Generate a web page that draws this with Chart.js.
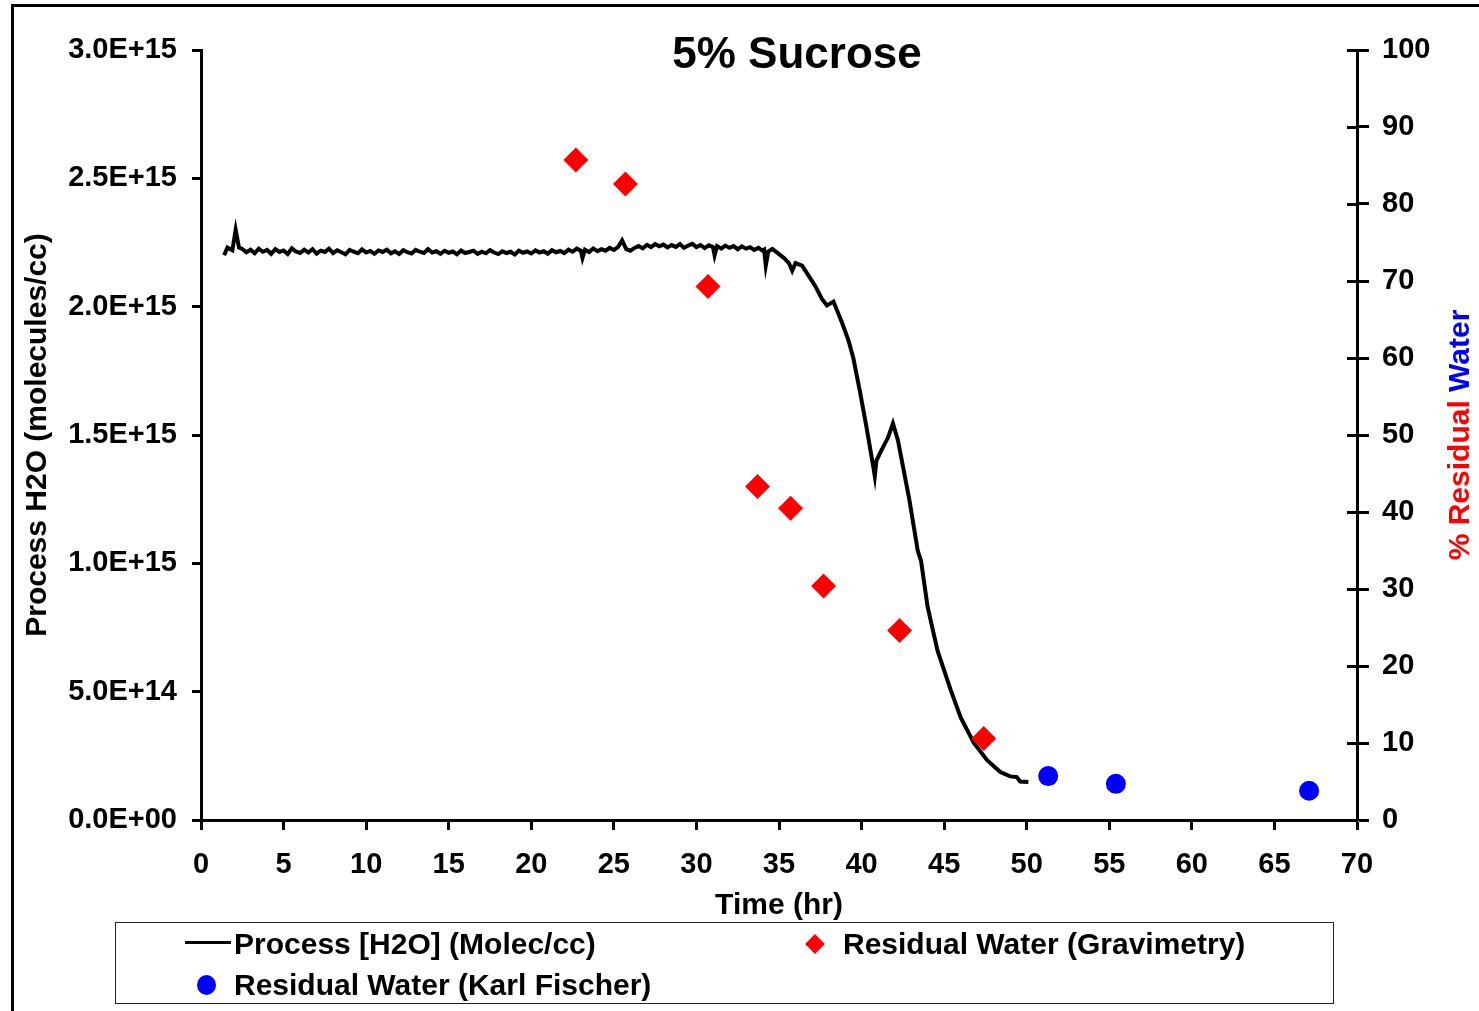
<!DOCTYPE html>
<html>
<head>
<meta charset="utf-8">
<script src="https://cdn.jsdelivr.net/npm/chart.js@4.4.1/dist/chart.umd.min.js"></script>
<style>
html,body{margin:0;padding:0;background:#fff;}
#wrap{position:relative;width:1479px;height:1011px;overflow:hidden;font-family:"Liberation Sans",Arial,sans-serif;background:#fff;}
#frame{position:absolute;left:11px;top:4px;width:1700px;height:1200px;border:3px solid #000;box-sizing:border-box;}
#cv{position:absolute;left:0;top:0;}
#legend{position:absolute;left:115px;top:922px;width:1219px;height:82px;border:1.5px solid #222;box-sizing:border-box;}
.lt{position:absolute;font-weight:bold;font-size:30px;color:#000;line-height:1;white-space:nowrap;}
.lline{position:absolute;height:3px;background:#000;}
.ldia{position:absolute;width:14px;height:14px;background:#ff0000;transform:rotate(45deg);}
.lcir{position:absolute;width:19px;height:20px;border-radius:50%;background:#0000ff;}
</style>
</head>
<body>
<div id="wrap">
  <div id="frame"></div>
  <canvas id="cv" width="1479" height="1011"></canvas>
  <div id="legend"></div>
  <div class="lline" style="left:185px;top:941px;width:46px;"></div>
  <div class="lt" id="lg0" style="left:234px;top:929px;"></div>
  <div class="ldia" style="left:808px;top:937px;"></div>
  <div class="lt" id="lg1" style="left:843px;top:929px;"></div>
  <div class="lcir" style="left:197px;top:975px;"></div>
  <div class="lt" id="lg2" style="left:234px;top:970px;"></div>
</div>
<script>
// ---------- data ----------
const chartTitle = '5% Sucrose';
const xAxisTitle = 'Time (hr)';
const yLeftTitle = 'Process H2O (molecules/cc)';
const yRightTitleParts = ['% Residual ', 'Water'];
const seriesNames = ['Process [H2O] (Molec/cc)', 'Residual Water (Gravimetry)', 'Residual Water (Karl Fischer)'];

// Process [H2O] trace: time (hr) and value in units of 1E+15 molecules/cc
const processTime = [
  1.4, 1.6, 1.9, 2.1, 2.3,
  2.5, 2.75, 3.0, 3.25, 3.5, 3.75, 4.0, 4.25,
  4.5, 4.75, 5.0, 5.25, 5.5, 5.75, 6.0, 6.25,
  6.5, 6.75, 7.0, 7.25, 7.5, 7.75, 8.0, 8.25,
  8.5, 8.75, 9.0, 9.25, 9.5, 9.75, 10.0, 10.25,
  10.5, 10.75, 11.0, 11.25, 11.5, 11.75, 12.0, 12.25,
  12.5, 12.75, 13.0, 13.25, 13.5, 13.75, 14.0, 14.25,
  14.5, 14.75, 15.0, 15.25, 15.5, 15.75, 16.0, 16.25,
  16.5, 16.75, 17.0, 17.25, 17.5, 17.75, 18.0, 18.25,
  18.5, 18.75, 19.0, 19.25, 19.5, 19.75, 20.0, 20.25,
  20.5, 20.75, 21.0, 21.25, 21.5, 21.75, 22.0, 22.25,
  22.5, 22.75, 23.0, 23.1, 23.25, 23.5, 23.75, 24.0, 24.25,
  24.5, 24.75, 25.0, 25.25, 25.5, 25.75, 26.0, 26.25,
  26.5, 26.75, 27.0, 27.25, 27.5, 27.75, 28.0, 28.25,
  28.5, 28.75, 29.0, 29.25, 29.5, 29.75, 30.0, 30.25,
  30.5, 30.75, 31.0, 31.1, 31.25, 31.5, 31.75, 32.0, 32.25,
  32.5, 32.75, 33.0, 33.25, 33.5, 33.75, 34.0, 34.1,
  34.2, 34.35, 34.6, 35.0, 35.3,
  35.6, 35.8, 36.0, 36.4, 36.8,
  37.2, 37.6, 37.9, 38.3, 38.8,
  39.2, 39.5, 39.9, 40.3, 40.7,
  40.8, 40.9, 41.2, 41.6, 41.9,
  42.2, 42.5, 42.9, 43.4, 43.6,
  44.0, 44.6, 45.4, 46.0, 46.8,
  47.6, 48.4, 49.0, 49.4, 49.6,
  50.1
];
const processH2O_e15 = [
  2.20, 2.23, 2.22, 2.30, 2.23,
  2.225, 2.212, 2.222, 2.208, 2.226, 2.214, 2.221, 2.206,
  2.224, 2.213, 2.219, 2.205, 2.227, 2.215, 2.209, 2.222,
  2.211, 2.224, 2.207, 2.218, 2.213, 2.226, 2.209, 2.220,
  2.212, 2.204, 2.221, 2.214, 2.208, 2.223, 2.211, 2.217,
  2.206, 2.219, 2.213, 2.222, 2.208, 2.216, 2.205, 2.220,
  2.212, 2.207, 2.221, 2.214, 2.209, 2.224, 2.211, 2.216,
  2.206, 2.218, 2.210, 2.215, 2.204, 2.219, 2.209, 2.213,
  2.218, 2.206, 2.214, 2.208, 2.220, 2.211, 2.205, 2.216,
  2.209, 2.214, 2.203, 2.218, 2.210, 2.215, 2.207, 2.219,
  2.211, 2.216, 2.206, 2.220, 2.212, 2.217, 2.209, 2.222,
  2.214, 2.226, 2.218, 2.190, 2.222, 2.213, 2.227, 2.216, 2.224,
  2.218, 2.229, 2.221, 2.232, 2.258, 2.224, 2.218, 2.229,
  2.236, 2.227, 2.241, 2.232, 2.244, 2.235, 2.242, 2.231,
  2.240, 2.233, 2.244, 2.229, 2.238, 2.245, 2.232, 2.240,
  2.228, 2.239, 2.233, 2.200, 2.236, 2.226, 2.238, 2.229, 2.236,
  2.224, 2.235, 2.226, 2.232, 2.221, 2.229, 2.218, 2.222,
  2.16, 2.215, 2.225, 2.205, 2.19,
  2.17, 2.14, 2.17, 2.16, 2.12,
  2.08, 2.03, 2.005, 2.02, 1.94,
  1.87, 1.80, 1.67, 1.53, 1.38,
  1.34, 1.40, 1.44, 1.49, 1.545,
  1.48, 1.38, 1.245, 1.05, 1.01,
  0.83, 0.66, 0.506, 0.40, 0.30,
  0.233, 0.187, 0.17, 0.167, 0.15,
  0.148
];

// Residual water (%, right axis)
const gravTime = [22.7, 25.7, 30.7, 33.7, 35.7, 37.7, 42.3, 47.4];
const gravPct  = [85.7, 82.6, 69.3, 43.3, 40.5, 30.4, 24.6, 10.6];
const kfTime = [51.3, 55.4, 67.1];
const kfPct  = [5.7, 4.7, 3.8];

// axis ranges [min, max, step]
const xRange = [0, 70, 5];
const yLeftRange = [0, 3e15, 5e14];
const yRightRange = [0, 100, 10];

// ---------- legend text ----------
document.getElementById('lg0').textContent = seriesNames[0];
document.getElementById('lg1').textContent = seriesNames[1];
document.getElementById('lg2').textContent = seriesNames[2];

// ---------- chart ----------
const FONT = '"Liberation Sans", Arial, sans-serif';
function sci(v){
  if (v === 0) return '0.0E+00';
  const e = Math.floor(Math.log10(Math.abs(v)) + 1e-9);
  const m = v / Math.pow(10, e);
  return m.toFixed(1) + 'E+' + String(e).padStart(2, '0');
}

const deco = {
  id: 'deco',
  afterDraw(chart){
    const ctx = chart.ctx, a = chart.chartArea, y1 = chart.scales.y1;
    ctx.save();
    // inner half of right-axis tick marks
    ctx.strokeStyle = '#000'; ctx.lineWidth = 3;
    y1.ticks.forEach(t => {
      const py = Math.round(y1.getPixelForValue(t.value)) + 0.5;
      ctx.beginPath(); ctx.moveTo(a.right - 10, py); ctx.lineTo(a.right, py); ctx.stroke();
    });
    // chart title (inside plot area, Excel style)
    ctx.fillStyle = '#000';
    ctx.font = 'bold 44px ' + FONT;
    ctx.textAlign = 'center'; ctx.textBaseline = 'middle';
    ctx.fillText(chartTitle, 797, 56);
    // two-colour right axis title
    ctx.translate(1461, (a.top + a.bottom) / 2);
    ctx.rotate(-Math.PI / 2);
    ctx.font = 'bold 30px ' + FONT;
    ctx.textAlign = 'left';
    const w0 = ctx.measureText(yRightTitleParts[0]).width;
    const w1 = ctx.measureText(yRightTitleParts[1]).width;
    const s = -(w0 + w1) / 2;
    ctx.fillStyle = '#ff0000'; ctx.fillText(yRightTitleParts[0], s, 0);
    ctx.fillStyle = '#0000ff'; ctx.fillText(yRightTitleParts[1], s + w0, 0);
    ctx.restore();
  }
};

const tickFont = {family: FONT, size: 29, weight: 'bold'};
const titleFont = {family: FONT, size: 30, weight: 'bold'};

new Chart(document.getElementById('cv'), {
  type: 'scatter',
  data: {
    datasets: [
      {
        label: seriesNames[0],
        data: processTime.map((t, i) => ({x: t, y: processH2O_e15[i] * 1e15})),
        showLine: true, borderColor: '#000', borderWidth: 4, pointRadius: 0,
        tension: 0, yAxisID: 'y', order: 3
      },
      {
        label: seriesNames[1],
        data: gravTime.map((t, i) => ({x: t, y: gravPct[i]})),
        pointStyle: 'rectRot', pointRadius: 12.5, backgroundColor: '#ff0000',
        borderWidth: 0, yAxisID: 'y1', order: 1
      },
      {
        label: seriesNames[2],
        data: kfTime.map((t, i) => ({x: t, y: kfPct[i]})),
        pointStyle: 'circle', pointRadius: 10, backgroundColor: '#0000ff',
        borderWidth: 0, yAxisID: 'y1', order: 2
      }
    ]
  },
  options: {
    responsive: false,
    animation: false,
    events: [],
    layout: {padding: {left: 14, right: 0, top: 50, bottom: 81}},
    plugins: {legend: {display: false}, tooltip: {enabled: false}, title: {display: false}},
    scales: {
      x: {
        type: 'linear', position: 'bottom',
        min: xRange[0], max: xRange[1],
        ticks: {stepSize: xRange[2], color: '#000', font: tickFont, padding: 18, maxRotation: 0},
        grid: {drawOnChartArea: false, drawTicks: true, tickLength: 10, tickWidth: 3, tickColor: '#000', color: '#000'},
        border: {display: true, color: '#000', width: 3},
        title: {display: true, text: xAxisTitle, color: '#000', font: titleFont, padding: {top: 0, bottom: 6}},
        afterFit(s){ s.height = 110; }
      },
      y: {
        type: 'linear', position: 'left',
        min: yLeftRange[0], max: yLeftRange[1],
        ticks: {stepSize: yLeftRange[2], color: '#000', font: tickFont, padding: 15, callback: v => sci(v)},
        grid: {drawOnChartArea: false, drawTicks: true, tickLength: 9, tickWidth: 3, tickColor: '#000', color: '#000'},
        border: {display: true, color: '#000', width: 3},
        title: {display: true, text: yLeftTitle, color: '#000', font: titleFont, padding: {top: 6, bottom: 0}},
        afterFit(s){ s.width = 187; }
      },
      y1: {
        type: 'linear', position: 'right',
        min: yRightRange[0], max: yRightRange[1],
        ticks: {stepSize: yRightRange[2], color: '#000', font: tickFont, padding: 13},
        grid: {drawOnChartArea: false, drawTicks: true, tickLength: 12, tickWidth: 3, tickColor: '#000', color: '#000'},
        border: {display: true, color: '#000', width: 3},
        afterFit(s){ s.width = 122; }
      }
    }
  },
  plugins: [deco]
});
</script>
</body>
</html>
